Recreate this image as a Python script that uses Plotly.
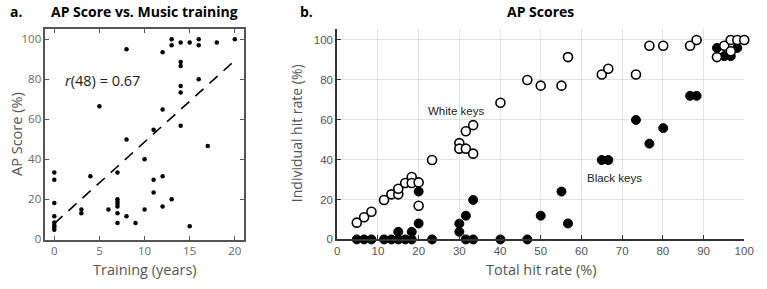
import plotly.graph_objects as go

# ---- Panel a data: AP score vs training years ----
train_years = [13, 13, 14, 15, 16, 16, 18, 20, 8, 12, 14, 14, 16, 14, 14, 5, 12, 14, 11, 8,
               17, 10, 0, 0, 4, 7, 11, 12, 11, 0, 7, 7, 7, 7, 13, 12, 3, 3, 6, 10,
               0, 7, 8, 0, 0, 0, 0, 7, 9, 15]
ap_score = [100, 97, 98.4, 98.4, 100, 97, 98.4, 100, 95, 93.5, 88.6, 86.6, 80, 76.6, 73.4, 66.5, 64.9, 56.7, 54.7, 49.8,
            46.6, 39.9, 33.3, 29.7, 31.4, 33.3, 29.7, 31.4, 23.2, 18, 19.9, 18.6, 17.5, 16.3, 19.9, 16.3, 14.7, 12.8, 14.7, 14.7,
            11.4, 12.9, 11.4, 8.2, 6.9, 5.7, 4.6, 8.0, 8.0, 6.4]
fit_x = [0, 20]
fit_y = [7.7, 89.4]
corr_label = "<i>r</i>(48) = 0.67"

# ---- Panel b data: individual vs total hit rate ----
total_hit = [4.8, 6.6, 8.4, 11.5, 13.3, 15.0, 15.0, 16.7, 18.3, 18.3, 20.0, 20.0, 23.3,
             30.0, 30.0, 31.6, 31.6, 33.4, 33.4, 40.1, 46.7, 50.0, 55.1, 56.7, 65.0, 66.6,
             73.4, 76.7, 80.1, 86.7, 88.3, 93.3, 95.1, 96.7, 96.7, 98.3, 100.0]
white_hit = [8.4, 11.1, 13.9, 19.8, 22.6, 22.6, 25.4, 28.3, 31.3, 28.3, 28.6, 16.9, 39.8,
             48.3, 45.5, 45.5, 54.2, 43.0, 57.3, 68.5, 79.9, 77.1, 77.1, 91.4, 82.7, 85.6,
             82.7, 97.1, 97.1, 97.1, 100.0, 91.4, 97.1, 100.0, 94.3, 100.0, 100.0]
black_hit = [0, 0, 0, 0, 0, 0, 3.8, 0, 0, 3.8, 24.0, 8.0, 0,
             3.8, 7.9, 0, 11.9, 0, 19.8, 0, 0, 11.9, 24.0, 8.0, 39.8, 39.8,
             59.9, 48.0, 55.8, 72.0, 72.0, 96.0, 91.9, 100.0, 91.9, 96.0, 100.0]

xa_ticks = [0, 5, 10, 15, 20]
ya_ticks = [0, 20, 40, 60, 80, 100]
xb_ticks = [0, 10, 20, 30, 40, 50, 60, 70, 80, 90, 100]
yb_ticks = [0, 20, 40, 60, 80, 100]

W, H = 767, 289
def fx(px):
    return px / W
def fy(py):
    return 1 - py / H

fig = go.Figure()

# panel a
fig.add_trace(go.Scatter(x=fit_x, y=fit_y, mode="lines",
                         line=dict(color="black", width=1.6, dash="11px,8px"),
                         xaxis="x", yaxis="y", showlegend=False, hoverinfo="skip"))
fig.add_trace(go.Scatter(x=train_years, y=ap_score, mode="markers",
                         marker=dict(color="black", size=4.5),
                         xaxis="x", yaxis="y", showlegend=False, cliponaxis=False))

# panel b
fig.add_trace(go.Scatter(x=total_hit, y=black_hit, mode="markers",
                         marker=dict(color="black", size=9, line=dict(color="black", width=1)),
                         xaxis="x2", yaxis="y2", showlegend=False, cliponaxis=False))
fig.add_trace(go.Scatter(x=total_hit, y=white_hit, mode="markers",
                         marker=dict(color="white", size=9, line=dict(color="black", width=1.6)),
                         xaxis="x2", yaxis="y2", showlegend=False, cliponaxis=False))

tick_font_a = dict(family="Open Sans", size=11.5, color="#666")
tick_font_b = dict(family="Liberation Sans", size=11.5, color="#555")

fig.update_layout(
    width=W, height=H, margin=dict(l=0, r=0, t=0, b=0),
    paper_bgcolor="white", plot_bgcolor="white",
    xaxis=dict(domain=[fx(43), fx(245)], range=[-1, 21], tickvals=xa_ticks,
               showgrid=False, zeroline=False, showline=True, mirror="ticks",
               linecolor="#555", linewidth=1.5, ticks="inside", ticklen=4, tickcolor="#555",
               tickfont=tick_font_a, anchor="y"),
    yaxis=dict(domain=[fy(245), fy(30)], range=[-0.5, 105], tickvals=ya_ticks,
               showgrid=False, zeroline=False, showline=True, mirror="ticks",
               linecolor="#555", linewidth=1.5, ticks="inside", ticklen=4, tickcolor="#555",
               tickfont=tick_font_a, anchor="x"),
    xaxis2=dict(domain=[fx(340), fx(754)], range=[0, 100], tickvals=xb_ticks,
                showgrid=True, gridcolor="#e3e3e3", gridwidth=1, zeroline=False,
                showline=True, linecolor="#333", linewidth=2, ticks="inside", ticklen=4,
                tickcolor="#333", tickfont=tick_font_b, anchor="y2"),
    yaxis2=dict(domain=[fy(244.5), fy(30)], range=[0, 105.3], tickvals=yb_ticks,
                showgrid=True, gridcolor="#e3e3e3", gridwidth=1, zeroline=False,
                showline=True, linecolor="#333", linewidth=2, ticks="inside", ticklen=4,
                tickcolor="#333", tickfont=tick_font_b, anchor="x2"),
)

ann = []
title_font = dict(family="Open Sans", size=14, color="black")
ann.append(dict(text="<b>a.</b>", x=fx(5), y=fy(12), xref="paper", yref="paper",
                xanchor="left", yanchor="middle", showarrow=False, font=title_font))
ann.append(dict(text="<b>AP Score vs. Music training</b>", x=fx(144), y=fy(12), xref="paper", yref="paper",
                xanchor="center", yanchor="middle", showarrow=False, font=title_font))
ann.append(dict(text="<b>b.</b>", x=fx(300), y=fy(12), xref="paper", yref="paper",
                xanchor="left", yanchor="middle", showarrow=False, font=title_font))
ann.append(dict(text="<b>AP Scores</b>", x=fx(547), y=fy(12), xref="paper", yref="paper",
                xanchor="center", yanchor="middle", showarrow=False, font=title_font))

axis_title_font = dict(family="Open Sans", size=14.5, color="#555")
ann.append(dict(text="Training (years)", x=fx(144), y=fy(275), xref="paper", yref="paper",
                xanchor="center", yanchor="middle", showarrow=False, font=axis_title_font))
ann.append(dict(text="AP Score (%)", x=fx(13), y=fy(137), xref="paper", yref="paper",
                xanchor="center", yanchor="middle", textangle=-90, showarrow=False, font=axis_title_font))
ann.append(dict(text="Total hit rate (%)", x=fx(547), y=fy(275), xref="paper", yref="paper",
                xanchor="center", yanchor="middle", showarrow=False, font=axis_title_font))
ann.append(dict(text="Individual hit rate (%)", x=fx(298), y=fy(136), xref="paper", yref="paper",
                xanchor="center", yanchor="middle", textangle=-90, showarrow=False,
                font=dict(family="Open Sans", size=14, color="#555")))

ann.append(dict(text=corr_label, x=fx(61), y=fy(82), xref="paper", yref="paper",
                xanchor="left", yanchor="middle", showarrow=False,
                font=dict(family="Open Sans", size=14.5, color="#222")))
label_font = dict(family="Liberation Sans", size=11.5, color="#222")
ann.append(dict(text="White keys", x=fx(461), y=fy(113), xref="paper", yref="paper",
                xanchor="center", yanchor="middle", showarrow=False, font=label_font))
ann.append(dict(text="Black keys", x=fx(622), y=fy(182), xref="paper", yref="paper",
                xanchor="center", yanchor="middle", showarrow=False, font=label_font))

fig.update_layout(annotations=ann)
fig.write_html("out.html")
